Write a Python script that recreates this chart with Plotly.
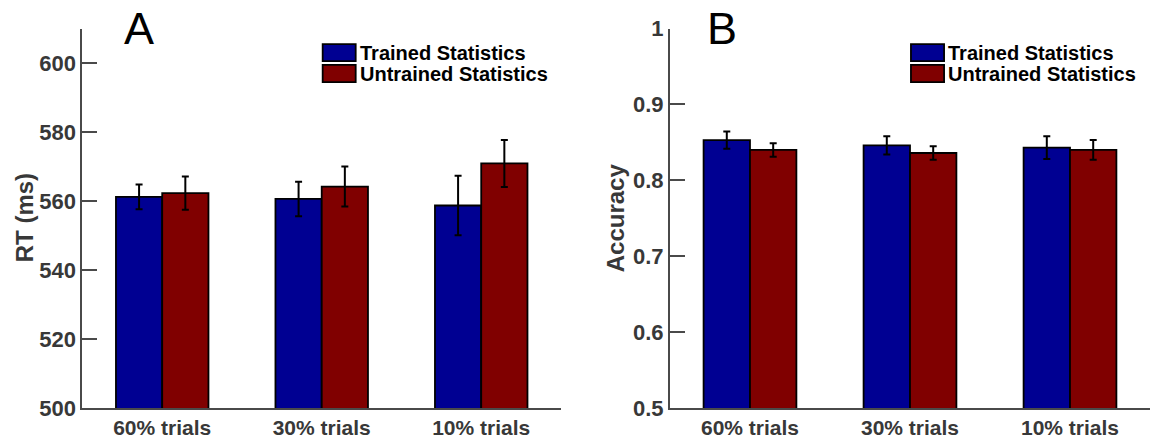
import plotly.graph_objects as go
from plotly.subplots import make_subplots

# Conditions on the x axis
conditions = ["60% trials", "30% trials", "10% trials"]
series_names = ["Trained Statistics", "Untrained Statistics"]

# Panel A: reaction time (ms), mean and error
rt_trained = [561.2, 560.6, 558.7]
rt_trained_err = [3.6, 5.0, 8.6]
rt_untrained = [562.3, 564.2, 570.9]
rt_untrained_err = [4.8, 5.8, 6.8]

# Panel B: accuracy, mean and error
acc_trained = [0.853, 0.846, 0.843]
acc_trained_err = [0.0115, 0.012, 0.015]
acc_untrained = [0.840, 0.836, 0.840]
acc_untrained_err = [0.009, 0.009, 0.013]

rt_ticks = [500, 520, 540, 560, 580, 600]
acc_ticks = [0.5, 0.6, 0.7, 0.8, 0.9, 1.0]

BLUE = "#000092"
RED = "#800000"
AXIS_GRAY = "#4a4a4a"
LABEL_GRAY = "#383838"
FONT = "Liberation Sans, Arial, Helvetica, sans-serif"

fig = make_subplots(rows=1, cols=2)
fig.update_layout(width=1150, height=439, margin=dict(l=0, r=0, t=0, b=0, autoexpand=False),
                  paper_bgcolor="white", plot_bgcolor="white",
                  barmode="group", bargap=0.42, bargroupgap=0,
                  showlegend=False, font=dict(family=FONT))


def add_bars(col, values, errors, color, name):
    fig.add_trace(go.Bar(
        x=conditions, y=values, name=name,
        marker=dict(color=color, line=dict(color="black", width=1.8)),
        error_y=dict(type="data", array=errors, visible=True,
                     color="black", thickness=2, width=3.5),
    ), row=1, col=col)


add_bars(1, rt_trained, rt_trained_err, BLUE, series_names[0])
add_bars(1, rt_untrained, rt_untrained_err, RED, series_names[1])
add_bars(2, acc_trained, acc_trained_err, BLUE, series_names[0])
add_bars(2, acc_untrained, acc_untrained_err, RED, series_names[1])

y_dom = [0.0706, 0.935]
fig.update_xaxes(range=[-0.5, 2.5], showline=True, linecolor=AXIS_GRAY, linewidth=2,
                 ticks="", showgrid=False, zeroline=False, automargin=False,
                 tickfont=dict(size=21, color=LABEL_GRAY, family=FONT, weight="bold"))
fig.update_xaxes(domain=[0.0717, 0.4878], row=1, col=1)
fig.update_xaxes(domain=[0.5826, 1.0], row=1, col=2)

yaxis_common = dict(showline=True, linecolor=AXIS_GRAY, linewidth=2,
                    ticks="inside", ticklen=15, tickwidth=2, tickcolor=AXIS_GRAY,
                    showgrid=False, zeroline=False, domain=y_dom, automargin=False,
                    tickfont=dict(size=22, color=LABEL_GRAY, family=FONT, weight="bold"))
fig.update_yaxes(range=[500, 610], tickvals=rt_ticks, **yaxis_common, row=1, col=1)
fig.update_yaxes(range=[0.5, 1.0], tickvals=acc_ticks,
                 ticktext=[("%g" % v) for v in acc_ticks], **yaxis_common, row=1, col=2)

# Panel letters and y-axis titles
for xr, letter, lx in [("x", "A", 0.118), ("x2", "B", 0.109)]:
    fig.add_annotation(text=letter, xref=xr + " domain", x=lx, xanchor="center",
                       yref="paper", y=0.935, yanchor="middle", showarrow=False,
                       font=dict(size=45, color="black", family=FONT))

fig.add_annotation(text="RT (ms)", xref="paper", x=24 / 1150, xanchor="center",
                   yref="paper", y=sum(y_dom) / 2, yanchor="middle", textangle=-90,
                   showarrow=False,
                   font=dict(size=24, color=LABEL_GRAY, family=FONT, weight="bold"))
fig.add_annotation(text="Accuracy", xref="paper", x=615 / 1150, xanchor="center",
                   yref="paper", y=sum(y_dom) / 2, yanchor="middle", textangle=-90,
                   showarrow=False,
                   font=dict(size=24, color=LABEL_GRAY, family=FONT, weight="bold"))

# Legend swatches with labels, one block per panel
legend_rows = [(series_names[0], BLUE, 0.914, 0.959), (series_names[1], RED, 0.859, 0.904)]
for xr, yr in [("x", "y"), ("x2", "y2")]:
    for name, color, y0, y1 in legend_rows:
        fig.add_shape(type="rect", xref=xr + " domain", yref=yr + " domain",
                      x0=0.502, x1=0.571, y0=y0, y1=y1,
                      fillcolor=color, line=dict(color="black", width=1.8))
        fig.add_annotation(text=name, xref=xr + " domain", x=0.576, xanchor="left",
                           yref=yr + " domain", y=(y0 + y1) / 2, yanchor="middle",
                           showarrow=False,
                           font=dict(size=20, color="black", family=FONT, weight="bold"))

fig.write_html("out.html")
